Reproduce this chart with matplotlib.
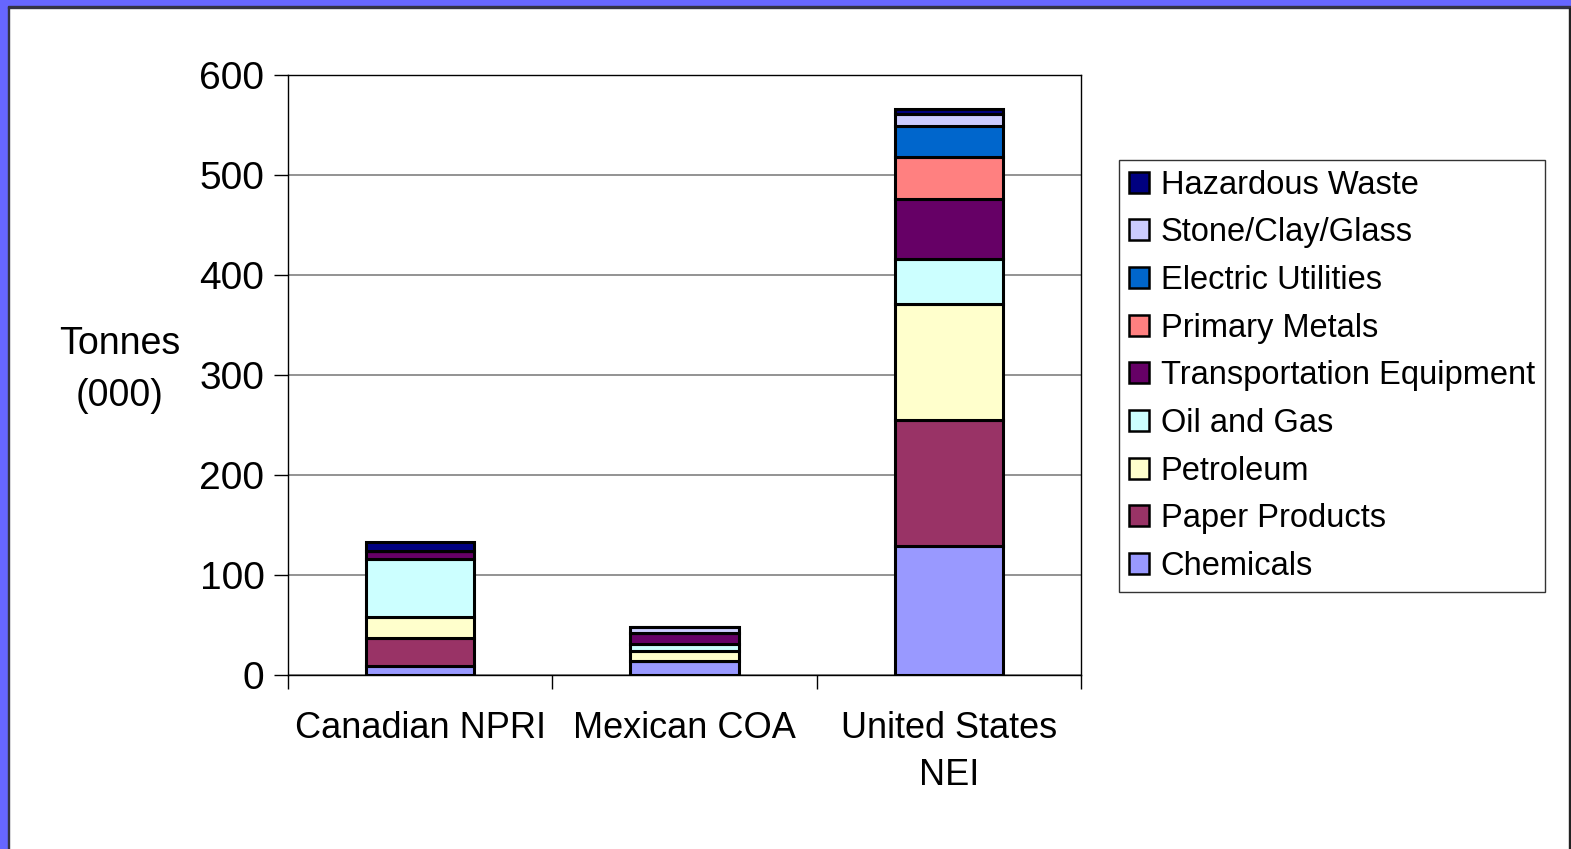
import numpy as np
import matplotlib.pyplot as plt
from matplotlib.patches import Rectangle, Patch

plt.rcParams['font.family'] = ['Liberation Sans', 'DejaVu Sans']

# data (thousand tonnes)
categories = ['Canadian NPRI', 'Mexican COA', 'United States\nNEI']
chemicals = [9, 14, 129]
paper_products = [28, 0, 126]
petroleum = [21, 10, 116]
oil_and_gas = [58, 7, 45]
transportation = [8, 11, 60]
primary_metals = [0, 0, 42]
electric_utilities = [0, 0, 31]
stone_clay_glass = [0, 6, 12]
hazardous_waste = [9, 0, 5]

series = [
    ('Chemicals', chemicals, '#9999FF'),
    ('Paper Products', paper_products, '#993366'),
    ('Petroleum', petroleum, '#FFFFCC'),
    ('Oil and Gas', oil_and_gas, '#CCFFFF'),
    ('Transportation Equipment', transportation, '#660066'),
    ('Primary Metals', primary_metals, '#FF8080'),
    ('Electric Utilities', electric_utilities, '#0066CC'),
    ('Stone/Clay/Glass', stone_clay_glass, '#CCCCFF'),
    ('Hazardous Waste', hazardous_waste, '#000080'),
]

W, H = 1571, 849
fig = plt.figure(figsize=(W / 100, H / 100), dpi=100)

# blue slide frame
fig.patches.append(Rectangle((0, 0), 7.5 / W, 1, transform=fig.transFigure, color='#6666FF', zorder=0))
fig.patches.append(Rectangle((0, 1 - 6.5 / H), 1, 6.5 / H, transform=fig.transFigure, color='#6666FF', zorder=0))
fig.patches.append(Rectangle((7.5 / W, 0), 1.8 / W, 1 - 6.5 / H, transform=fig.transFigure, color='#333344', zorder=1))
fig.patches.append(Rectangle((7.5 / W, 1 - 7.5 / H), 1 - 7.5 / W, 1.2 / H, transform=fig.transFigure, color='#333344', zorder=1))
fig.patches.append(Rectangle((1 - 2.5 / W, 0), 2.5 / W, 1 - 7.5 / H, transform=fig.transFigure, color='#222222', zorder=1))

ax = fig.add_axes([288 / W, (H - 675) / H, (1081 - 288) / W, 600 / H])

x = np.arange(len(categories))
bottom = np.zeros(len(categories))
handles = []
for name, vals, col in series:
    vals = np.array(vals, dtype=float)
    ax.bar(x, vals, 0.41, bottom=bottom, color=col, edgecolor='black', linewidth=2.2, zorder=3)
    bottom += vals
    handles.append(Patch(facecolor=col, edgecolor='black', linewidth=1.8, label=name))

ax.set_xlim(-0.5, 2.5)
ax.set_ylim(0, 600)
ax.set_yticks(np.arange(0, 601, 100))
ax.yaxis.grid(True, color='#808080', linewidth=1.2, zorder=0)
ax.set_axisbelow(True)
ax.set_xticks(x)
ax.set_xticklabels(categories, fontsize=26, linespacing=1.45)
ax.set_xticks(np.arange(-0.5, 2.6, 1), minor=True)
ax.tick_params(axis='x', which='major', length=0, pad=26)
ax.tick_params(axis='x', which='minor', length=10, width=1, direction='out')
ax.tick_params(axis='y', labelsize=28, length=10, width=1, pad=7)
for s in ax.spines.values():
    s.set_color('black')
    s.set_linewidth(1)

fig.text(120 / W, 1 - 370 / H, 'Tonnes\n(000)', fontsize=27, ha='center', va='center', linespacing=1.55)

leg = fig.legend(handles[::-1], [h.get_label() for h in handles[::-1]],
                 loc='upper left', bbox_to_anchor=(1119 / W, 1 - 160 / H),
                 fontsize=23.5, frameon=True, fancybox=False, edgecolor='black',
                 handlelength=0.61, handleheight=0.61, handletextpad=0.37,
                 labelspacing=0.51, borderpad=0.3, borderaxespad=0)
leg.get_frame().set_linewidth(1)

fig.savefig('out.png', dpi=100, facecolor='white')
